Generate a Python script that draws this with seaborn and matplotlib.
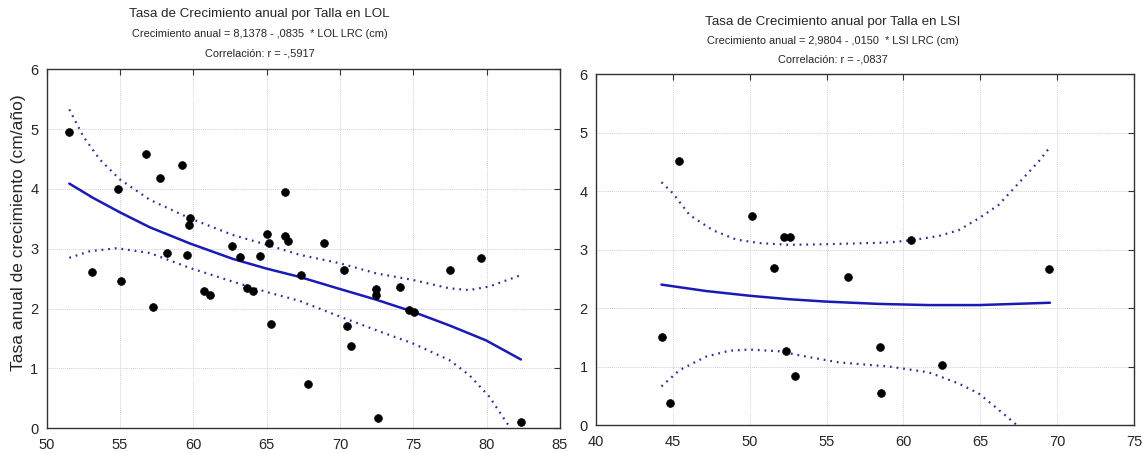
import seaborn as sns
import matplotlib.pyplot as plt

# LOL data (talla LRC cm, crecimiento cm/año)
lol_x = [51.54, 53.1, 54.88, 55.08, 56.76, 57.26, 57.71, 58.17, 59.26, 59.55, 59.76, 59.71,
         60.71, 61.12, 62.67, 63.16, 63.69, 64.07, 64.55, 65.02, 65.14, 66.27, 66.27,
         66.45, 67.36, 68.88, 65.32, 67.84, 70.29, 70.50, 70.74, 72.47, 72.49, 72.58,
         74.08, 74.69, 75.08, 77.48, 79.59, 82.36]
lol_y = [4.96, 2.61, 4.0, 2.47, 4.59, 2.02, 4.18, 2.93, 4.40, 2.90, 3.51, 3.40,
         2.30, 2.22, 3.05, 2.86, 2.35, 2.30, 2.88, 3.25, 3.09, 3.95, 3.22,
         3.13, 2.57, 3.09, 1.75, 0.74, 2.65, 1.71, 1.37, 2.33, 2.22, 0.18,
         2.37, 1.98, 1.94, 2.65, 2.85, 0.11]

lol_fit_x = [51.54, 53.17, 54.99, 57.03, 59.76, 62.71, 64.98, 67.25, 69.97, 72.47, 74.96, 77.46, 79.96, 82.34]
lol_fit_y = [4.09, 3.85, 3.61, 3.36, 3.09, 2.83, 2.67, 2.53, 2.33, 2.15, 1.95, 1.72, 1.47, 1.15]
lol_up_x = [51.54, 52.49, 53.63, 54.99, 57.03, 59.76, 62.71, 64.98, 67.25, 69.97, 72.47, 74.96,
            77.46, 78.82, 80.18, 82.34]
lol_up_y = [5.33, 4.88, 4.49, 4.16, 3.82, 3.51, 3.23, 3.07, 2.90, 2.76, 2.59, 2.48,
            2.34, 2.31, 2.37, 2.56]
lol_lo_x = [51.54, 52.95, 54.77, 57.03, 59.76, 62.71, 64.98, 67.25, 69.97, 72.47, 74.96,
            77.46, 78.82, 80.18, 81.55]
lol_lo_y = [2.85, 2.96, 3.01, 2.93, 2.68, 2.45, 2.28, 2.13, 1.87, 1.64, 1.42,
            1.14, 0.89, 0.53, 0.03]

# LSI data
lsi_x = [45.42, 44.28, 44.82, 50.16, 51.56, 52.20, 52.59, 52.36, 52.96, 56.40,
         58.47, 58.54, 60.50, 62.53, 69.49]
lsi_y = [4.51, 1.51, 0.38, 3.57, 2.69, 3.22, 3.22, 1.26, 0.84, 2.53,
         1.34, 0.54, 3.17, 1.02, 2.67]

lsi_fit_x = [44.26, 47.17, 49.98, 52.57, 54.95, 58.41, 61.65, 64.89, 69.53]
lsi_fit_y = [2.40, 2.29, 2.21, 2.15, 2.11, 2.07, 2.05, 2.05, 2.09]
lsi_up_x = [44.26, 45.01, 46.09, 47.60, 49.12, 50.63, 52.57, 54.95, 59.05, 60.56,
            62.29, 63.59, 64.89, 66.18, 67.48, 68.78, 69.53]
lsi_up_y = [4.15, 3.96, 3.59, 3.33, 3.17, 3.11, 3.08, 3.09, 3.12, 3.16,
            3.23, 3.33, 3.53, 3.76, 4.13, 4.50, 4.75]
lsi_lo_x = [44.26, 45.44, 47.17, 48.68, 49.98, 51.92, 53.66, 55.81, 59.05, 61.65,
            63.59, 64.89, 65.97, 67.37]
lsi_lo_y = [0.66, 0.94, 1.17, 1.27, 1.29, 1.26, 1.17, 1.07, 1.00, 0.90,
            0.71, 0.54, 0.31, 0.0]

sns.set_style("white")
plt.rcParams['font.family'] = ['Liberation Sans', 'DejaVu Sans']

fig = plt.figure(figsize=(11.45, 4.53), dpi=100)
ax1 = fig.add_axes([0.0408, 0.0545, 0.4482, 0.7925])
ax2 = fig.add_axes([0.5205, 0.0618, 0.4699, 0.7748])

line_col = '#1a1ab4'
dot_col = '#2e2e96'

panels = [
    (ax1, lol_x, lol_y, lol_fit_x, lol_fit_y, lol_up_x, lol_up_y, lol_lo_x, lol_lo_y, (50, 85)),
    (ax2, lsi_x, lsi_y, lsi_fit_x, lsi_fit_y, lsi_up_x, lsi_up_y, lsi_lo_x, lsi_lo_y, (40, 75)),
]
for ax, x, y, fx, fy, ux, uy, lx, ly, xlim in panels:
    sns.lineplot(x=ux, y=uy, ax=ax, color=dot_col, lw=1.6, linestyle=(0, (0.8, 2.2)))
    sns.lineplot(x=lx, y=ly, ax=ax, color=dot_col, lw=1.6, linestyle=(0, (0.8, 2.2)))
    sns.lineplot(x=fx, y=fy, ax=ax, color=line_col, lw=1.8)
    sns.scatterplot(x=x, y=y, ax=ax, color='black', s=32, edgecolor='black', zorder=5)
    ax.set_xlim(*xlim)
    ax.set_ylim(0, 6)
    ax.set_xticks(range(xlim[0], xlim[1] + 1, 5))
    ax.set_yticks(range(0, 7))
    ax.grid(True, color='#d0d0d0', linestyle=(0, (1, 1)), lw=0.7)
    ax.tick_params(direction='in', length=4, labelsize=10.5, top=True, right=True,
                   labeltop=False, labelright=False, color='#333333')
    ax.tick_params(axis='x', pad=7)
    ax.tick_params(axis='y', pad=6)
    for s in ax.spines.values():
        s.set_color('#333333')
        s.set_linewidth(1.0)

ax1.set_ylabel('Tasa anual de crecimiento (cm/año)', fontsize=12.5)
ax1.yaxis.set_label_coords(-0.040, 0.544)

fig.text(0.2266, 0.969, 'Tasa de Crecimiento anual por Talla en LOL', ha='center', va='center', fontsize=9.6)
fig.text(0.2266, 0.925, 'Crecimiento anual = 8,1378 - ,0835  * LOL LRC (cm)', ha='center', va='center', fontsize=7.9)
fig.text(0.2266, 0.883, 'Correlación: r = -,5917', ha='center', va='center', fontsize=7.9)

fig.text(0.7275, 0.952, 'Tasa de Crecimiento anual por Talla en LSI', ha='center', va='center', fontsize=9.6)
fig.text(0.7275, 0.909, 'Crecimiento anual = 2,9804 - ,0150  * LSI LRC (cm)', ha='center', va='center', fontsize=7.9)
fig.text(0.7275, 0.869, 'Correlación: r = -,0837', ha='center', va='center', fontsize=7.9)

fig.savefig('out.png', dpi=100)
